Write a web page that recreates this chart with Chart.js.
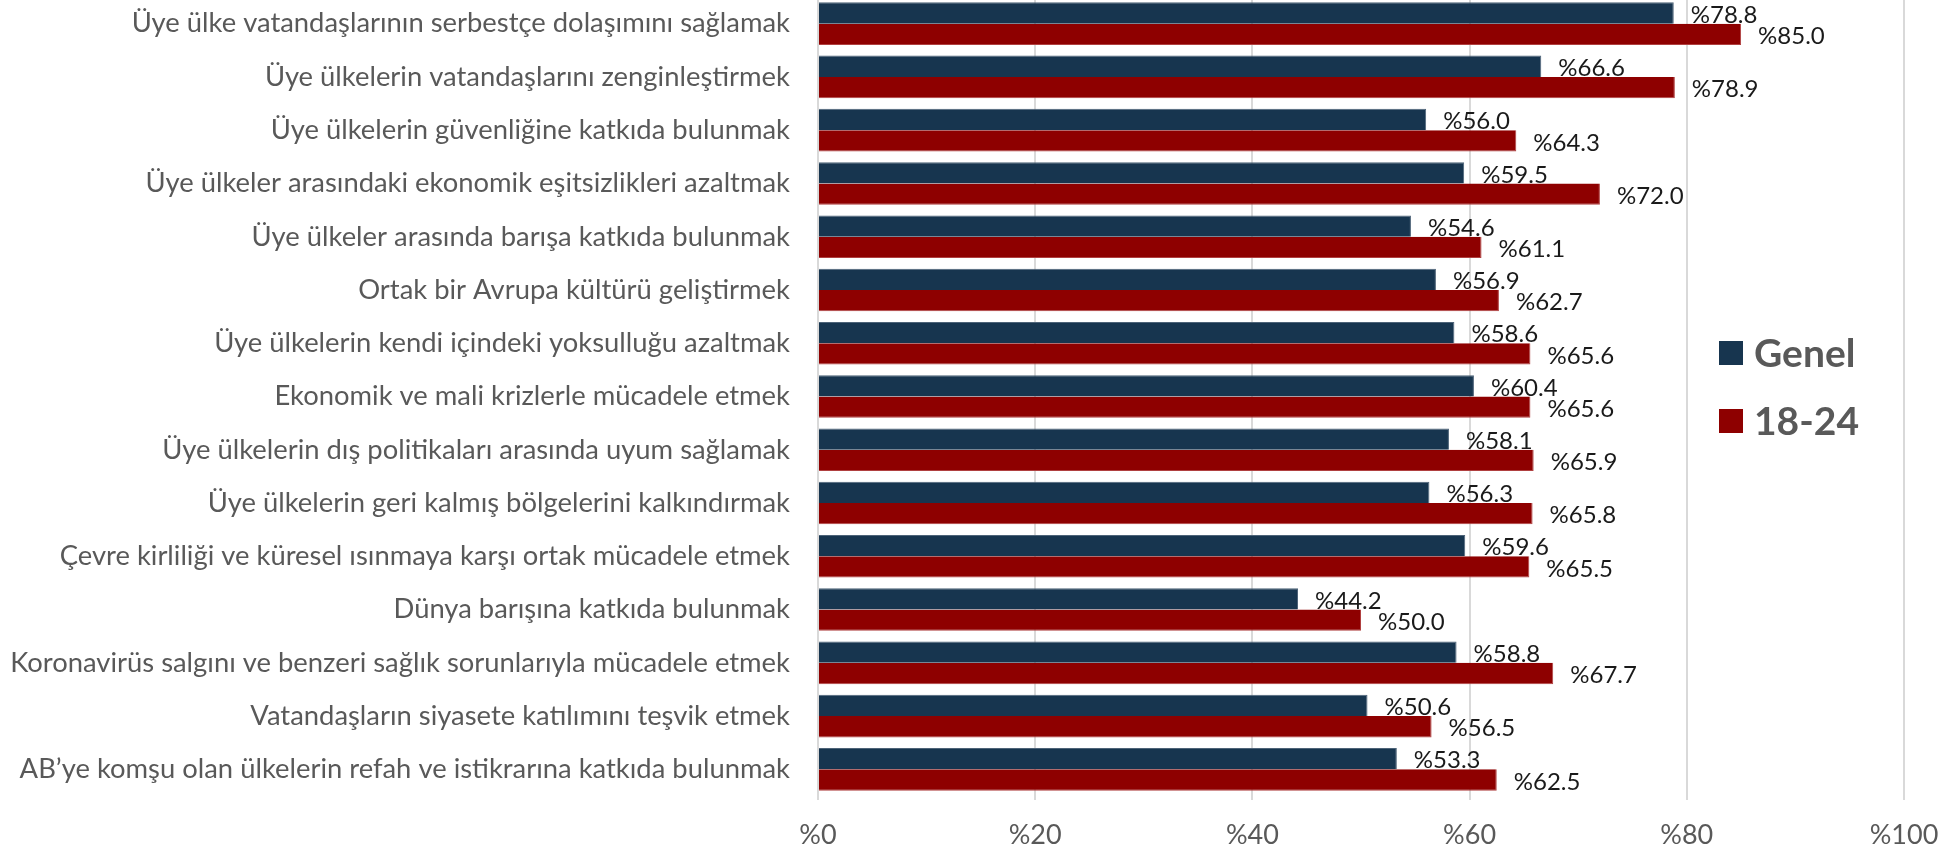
<!DOCTYPE html>
<html lang="tr">
<head>
<meta charset="utf-8">
<title>AB hedefleri</title>
<script src="https://cdn.jsdelivr.net/npm/chart.js@4/dist/chart.umd.min.js"></script>
<style>
    html, body { margin: 0; padding: 0; background: #fff; overflow: hidden; }
    .wrap { position: absolute; left: 0; top: -3px; width: 1955px; height: 856px; }
</style>
</head>
<body>
<div class="wrap"><canvas id="chart"></canvas></div>
<script>
const categories = [
    "Üye ülke vatandaşlarının serbestçe dolaşımını sağlamak",
    "Üye ülkelerin vatandaşlarını zenginleştirmek",
    "Üye ülkelerin güvenliğine katkıda bulunmak",
    "Üye ülkeler arasındaki ekonomik eşitsizlikleri azaltmak",
    "Üye ülkeler arasında barışa katkıda bulunmak",
    "Ortak bir Avrupa kültürü geliştirmek",
    "Üye ülkelerin kendi içindeki yoksulluğu azaltmak",
    "Ekonomik ve mali krizlerle mücadele etmek",
    "Üye ülkelerin dış politikaları arasında uyum sağlamak",
    "Üye ülkelerin geri kalmış bölgelerini kalkındırmak",
    "Çevre kirliliği ve küresel ısınmaya karşı ortak mücadele etmek",
    "Dünya barışına katkıda bulunmak",
    "Koronavirüs salgını ve benzeri sağlık sorunlarıyla mücadele etmek",
    "Vatandaşların siyasete katılımını teşvik etmek",
    "AB’ye komşu olan ülkelerin refah ve istikrarına katkıda bulunmak"
];
const genel = [78.8, 66.6, 56.0, 59.5, 54.6, 56.9, 58.6, 60.4, 58.1, 56.3, 59.6, 44.2, 58.8, 50.6, 53.3];
const genc = [85.0, 78.9, 64.3, 72.0, 61.1, 62.7, 65.6, 65.6, 65.9, 65.8, 65.5, 50.0, 67.7, 56.5, 62.5];
const seriesNames = ["Genel", "18-24"];
const xTicks = [0, 20, 40, 60, 80, 100];

const navy = '#17354f';
const red = '#8e0000';
const grey = '#595959';
const fontFam = 'Lato, "Open Sans", sans-serif';

// value labels at the end of each bar
const barLabels = {
    id: 'barLabels',
    afterDatasetsDraw(chart) {
        const ctx = chart.ctx;
        ctx.save();
        ctx.font = '24px ' + fontFam;
        ctx.fillStyle = '#1a1a1a';
        ctx.textBaseline = 'middle';
        ctx.textAlign = 'left';
        chart.data.datasets.forEach((ds, i) => {
            const meta = chart.getDatasetMeta(i);
            meta.data.forEach((bar, j) => {
                ctx.fillText('%' + ds.data[j].toFixed(1), bar.x + 17, bar.y + 2);
            });
        });
        ctx.restore();
    }
};

// legend sits inside the plot, right side
const sideLegend = {
    id: 'sideLegend',
    afterDraw(chart) {
        const ctx = chart.ctx;
        ctx.save();
        ctx.font = 'bold 39px ' + fontFam;
        ctx.textBaseline = 'middle';
        chart.data.datasets.forEach((ds, i) => {
            const y = 356 + i * 68;
            ctx.fillStyle = ds.backgroundColor;
            ctx.fillRect(1719, y - 12, 24, 24);
            ctx.fillStyle = grey;
            ctx.fillText(ds.label, 1754, y + 1);
        });
        ctx.restore();
    }
};

new Chart(document.getElementById('chart'), {
    type: 'bar',
    data: {
        labels: categories,
        datasets: [
            { label: seriesNames[0], data: genel, backgroundColor: navy, borderColor: '#4d6378', borderWidth: { top: 1, right: 1, bottom: 0, left: 0 }, categoryPercentage: 0.8, barPercentage: 1.0 },
            { label: seriesNames[1], data: genc, backgroundColor: red, borderColor: '#b04040', borderWidth: { top: 0, right: 1, bottom: 1, left: 0 }, categoryPercentage: 0.8, barPercentage: 1.0 }
        ]
    },
    options: {
        indexAxis: 'y',
        responsive: true,
        maintainAspectRatio: false,
        animation: false,
        layout: { autoPadding: false, padding: { left: 0, right: 51, top: 0, bottom: 0 } },
        plugins: {
            legend: { display: false },
            tooltip: { enabled: false }
        },
        scales: {
            x: {
                min: 0,
                max: 100,
                afterBuildTicks: (scale) => { scale.ticks = xTicks.map(v => ({ value: v })); },
                afterFit: (scale) => {
                    scale.height = 57;
                    scale.paddingLeft = 0;
                    scale.paddingRight = 0;
                },
                grid: { color: '#d9d9d9', lineWidth: 2, tickLength: 4, drawTicks: true },
                border: { display: false },
                ticks: {
                    color: grey,
                    padding: 19,
                    font: { family: fontFam, size: 27 },
                    callback: (v) => '%' + v
                }
            },
            y: {
                afterFit: (scale) => {
                    scale.width = 818;
                    scale.paddingTop = 0;
                    scale.paddingBottom = 0;
                },
                grid: { display: false },
                border: { display: false },
                ticks: {
                    color: grey,
                    padding: 20,
                    autoSkip: false,
                    font: { family: fontFam, size: 27.4 }
                }
            }
        }
    },
    plugins: [barLabels, sideLegend]
});
</script>
</body>
</html>
